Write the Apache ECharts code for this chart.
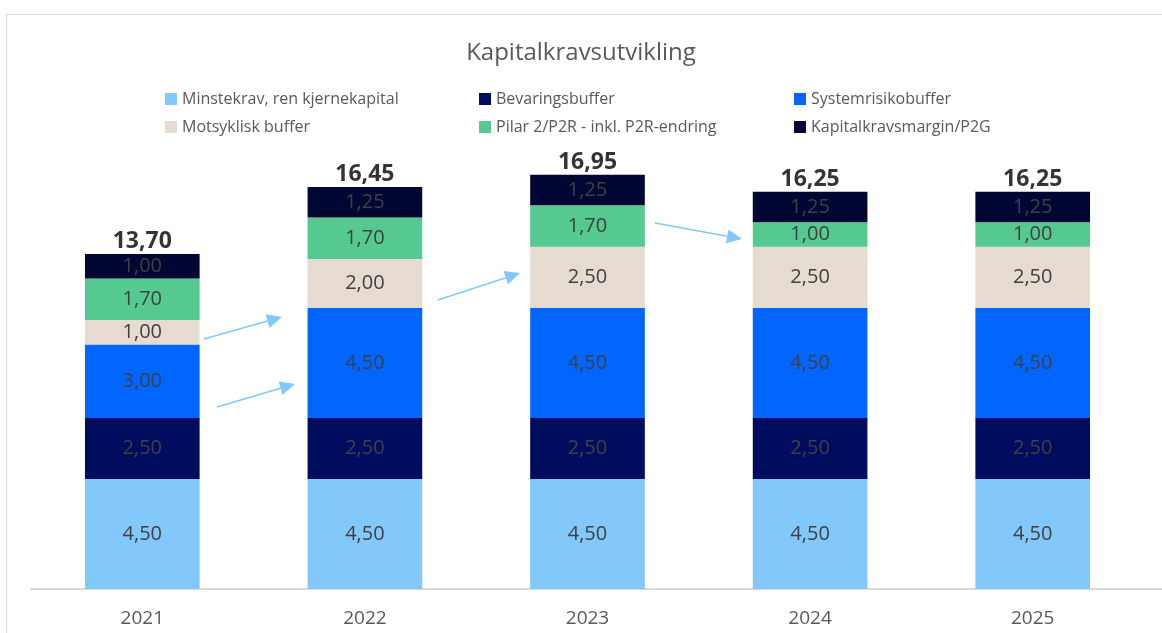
<!DOCTYPE html>
<html>
<head>
<meta charset="utf-8">
<script src="https://cdn.jsdelivr.net/npm/echarts@6/dist/echarts.min.js"></script>
<style>
  html, body { margin: 0; padding: 0; background: #fff; }
  #frame { position: absolute; left: 6px; top: 14px; right: -2px; bottom: -2px; border-left: 1px solid #d9d9d9; border-top: 1px solid #d9d9d9; }
  #chart { width: 1162px; height: 633px; }
</style>
</head>
<body>
<div id="frame"></div>
<div id="chart"></div>
<script>
var years = ['2021', '2022', '2023', '2024', '2025']
var minstekrav = [4.5, 4.5, 4.5, 4.5, 4.5]
var bevaring = [2.5, 2.5, 2.5, 2.5, 2.5]
var systemrisiko = [3.0, 4.5, 4.5, 4.5, 4.5]
var motsyklisk = [1.0, 2.0, 2.5, 2.5, 2.5]
var pilar2 = [1.7, 1.7, 1.7, 1.0, 1.0]
var margin = [1.0, 1.25, 1.25, 1.25, 1.25]
var totals = [13.70, 16.45, 16.95, 16.25, 16.25]

var names = ['Minstekrav, ren kjernekapital', 'Bevaringsbuffer', 'Systemrisikobuffer',
    'Motsyklisk buffer', 'Pilar 2/P2R - inkl. P2R-endring', 'Kapitalkravsmargin/P2G']

var fmt = function (v) { return v.toFixed(2).replace('.', ',') }

var font = '"Open Sans", "Noto Sans", sans-serif'

var echart = echarts.init(document.getElementById('chart'))

function stackBar(name, values, color) {
    return {
        name: name,
        type: 'bar',
        stack: 'total',
        barWidth: '51.5%',
        itemStyle: { color: color },
        label: {
            show: true,
            position: 'inside',
            color: '#404040',
            fontSize: 20,
            fontFamily: font,
            formatter: function (p) { return fmt(p.value) }
        },
        data: values
    }
}

// pale blue arrows between the bars
function arrow(x1, y1, x2, y2) {
    var ang = Math.atan2(y2 - y1, x2 - x1)
    var len = 15, half = 7
    var bx = x2 - len * Math.cos(ang), by = y2 - len * Math.sin(ang)
    var px = -Math.sin(ang) * half, py = Math.cos(ang) * half
    return {
        type: 'group',
        children: [
            { type: 'line', shape: { x1: x1, y1: y1, x2: bx, y2: by }, style: { stroke: '#82c8fa', lineWidth: 1.6 } },
            { type: 'polygon', shape: { points: [[x2, y2], [bx + px, by + py], [bx - px, by - py]] }, style: { fill: '#82c8fa' } }
        ]
    }
}

// one legend per entry, three columns two rows
var legendCols = [160, 474, 789]
var legendRows = [86, 114]
var legends = names.map(function (n, i) {
    return {
        left: legendCols[i % 3],
        top: legendRows[Math.floor(i / 3)],
        itemWidth: 12,
        itemHeight: 12,
        icon: 'rect',
        selectedMode: false,
        data: [n],
        textStyle: { color: '#595959', fontSize: 16, fontFamily: font }
    }
})

var option = {
    animation: false,
    title: {
        text: 'Kapitalkravsutvikling',
        left: 'center',
        top: 36,
        textStyle: { color: '#595959', fontSize: 24, fontWeight: 'normal', fontFamily: font }
    },
    legend: legends,
    grid: {
        top: 149,
        left: 31,
        right: 18,
        bottom: 44
    },
    xAxis: {
        type: 'category',
        data: years,
        axisLine: { show: true, lineStyle: { color: '#d9d9d9', width: 2 } },
        axisTick: { show: false },
        axisLabel: { color: '#595959', fontSize: 19, fontFamily: font, margin: 20 }
    },
    yAxis: {
        type: 'value',
        min: 0,
        max: 18,
        show: false,
        splitLine: { show: false }
    },
    series: [
        stackBar(names[0], minstekrav, '#82c8fa'),
        stackBar(names[1], bevaring, '#000c5e'),
        stackBar(names[2], systemrisiko, '#0066ff'),
        stackBar(names[3], motsyklisk, '#e5dbd1'),
        stackBar(names[4], pilar2, '#55c98f'),
        stackBar(names[5], margin, '#000733'),
        {
            name: 'Sum',
            type: 'scatter',
            symbolSize: 2,
            itemStyle: { color: 'rgba(0,0,0,0)' },
            silent: true,
            z: 10,
            label: {
                show: true,
                position: 'top',
                distance: 0,
                color: '#000000',
                fontSize: 23,
                fontWeight: 'bold',
                fontFamily: font,
                formatter: function (p) { return fmt(p.value) }
            },
            data: totals
        }
    ],
    graphic: [
        arrow(204, 339, 282, 317),
        arrow(217, 407, 295, 384),
        arrow(438, 300, 520, 273),
        arrow(655, 223, 742, 239),
        { type: 'line', shape: { x1: 1144, y1: 589, x2: 1162, y2: 589 }, style: { stroke: '#d9d9d9', lineWidth: 2 } }
    ]
}
echart.setOption(option)
</script>
</body>
</html>
